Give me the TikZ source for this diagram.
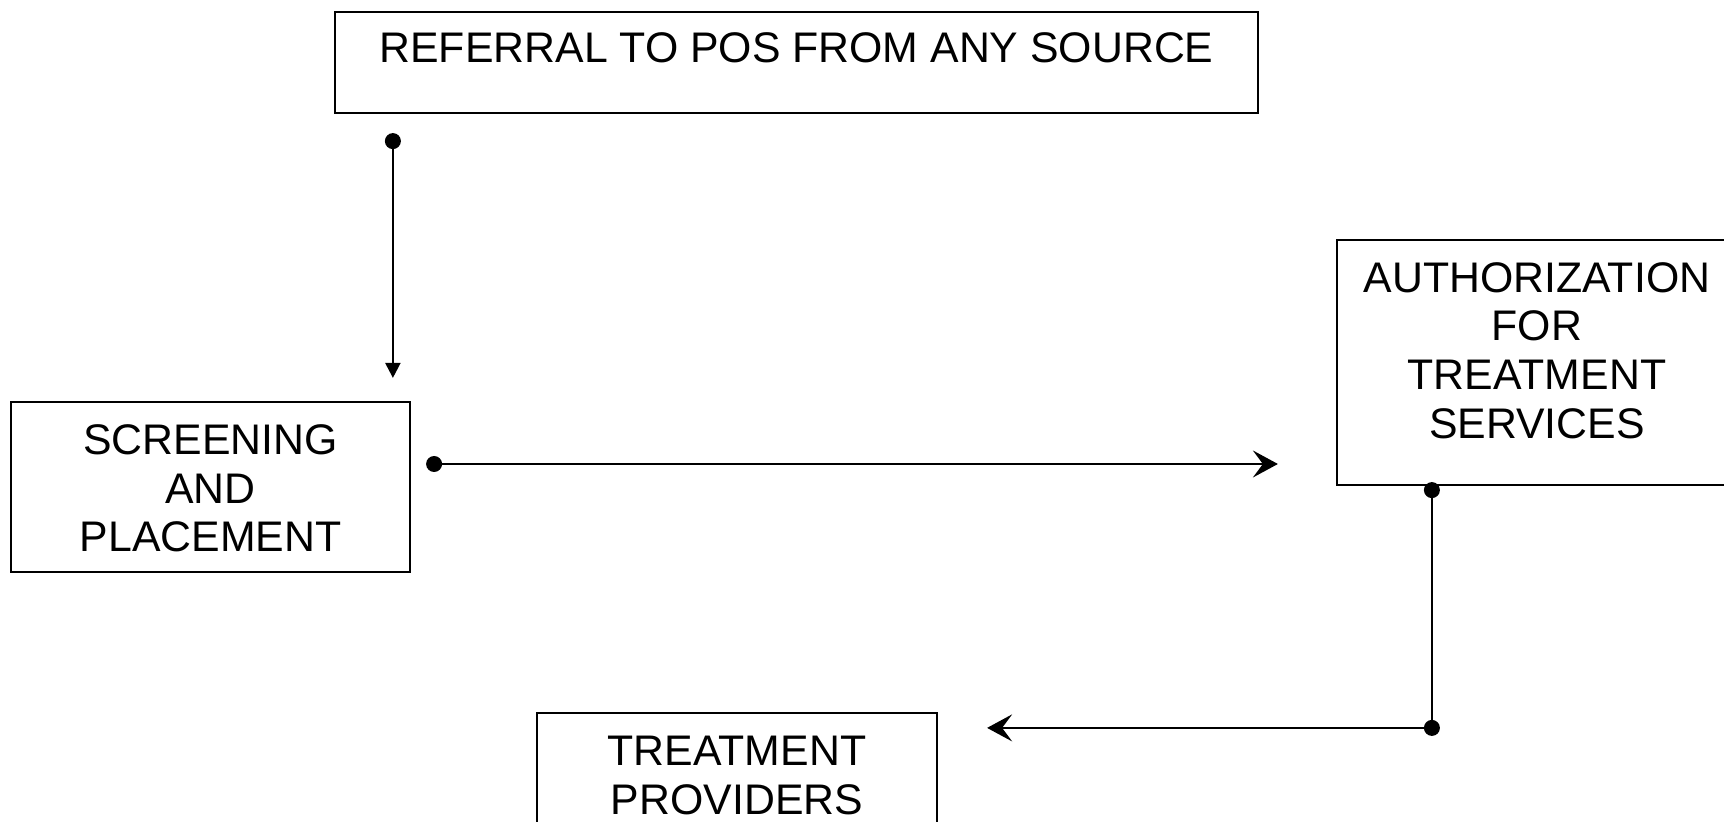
\documentclass[tikz,border=0pt]{standalone}
\usepackage{fontspec}
\setmainfont{Liberation Sans}
\usetikzlibrary{arrows.meta}

\begin{document}
\begin{tikzpicture}[x=0.5pt,y=-0.5pt,line width=1.1pt,
	box/.style={draw,line width=1.1pt,align=center,inner sep=0pt,font=\fontsize{21.4pt}{24.4pt}\selectfont},
	downarr/.style={-{Triangle[length=7.5pt,width=7.5pt]}},
	sidearr/.style={-{Stealth[length=12.5pt,width=13.5pt,inset=5pt]}}]
	%% Frame
	\useasboundingbox (0,0) rectangle (1724,822);
	\clip (0,0) rectangle (1724,822);
	%% Boxes
	\node[box,minimum width=461.5pt,text height=25.5pt,text depth=25pt] (referral) at (796.5,62.5) {REFERRAL TO POS FROM ANY SOURCE};
	\node[box,minimum width=199.5pt,text height=75pt,text depth=10pt] (screening) at (210.5,487) {SCREENING\\AND\\PLACEMENT};
	\node[box,minimum width=200pt,text height=99.25pt,text depth=23.25pt] (authorization) at (1537,362.5) {AUTHORIZATION\\FOR\\TREATMENT\\SERVICES};
	\node[box,minimum width=200pt,text height=50.75pt,text depth=22.75pt] (treatment) at (737,786.5) {TREATMENT\\PROVIDERS};
	%% Connector ends
	\coordinate (refout) at ([xshift=29.5pt,yshift=-13.5pt]referral.south west);
	\path (refout |- screening.north) ++(0,-23) coordinate (scrin);
	\coordinate (scrout) at ([xshift=11.5pt,yshift=11.5pt]screening.east);
	\path (scrout -| authorization.west) ++(-58,0) coordinate (authin);
	\coordinate (authout) at ([xshift=48pt,yshift=-2pt]authorization.south west);
	\path (authout |- treatment.north) ++(0,16) coordinate (bend);
	\path (bend -| treatment.east) ++(49,0) coordinate (treatin);
	%% Connectors
	\draw[downarr] (refout) -- (scrin);
	\draw[sidearr] (scrout) -- (authin);
	\draw[sidearr] (authout) -- (bend) -- (treatin);
	\fill (refout) circle (4pt) (scrout) circle (4pt) (authout) circle (4pt) (bend) circle (4pt);
\end{tikzpicture}
\end{document}
